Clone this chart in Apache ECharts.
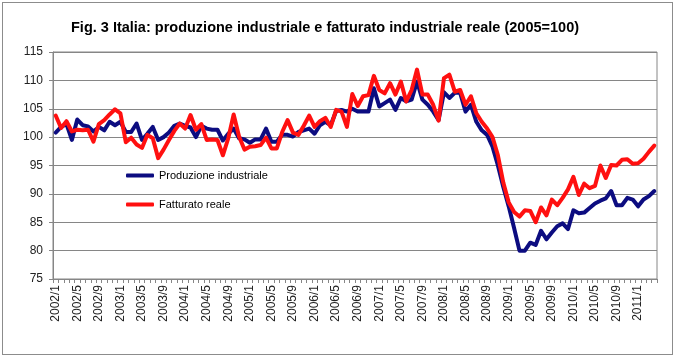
<!DOCTYPE html>
<html>
<head>
<meta charset="utf-8">
<script src="https://cdn.jsdelivr.net/npm/echarts@6/dist/echarts.min.js"></script>
<style>
html,body{margin:0;padding:0;background:#fff;}
#frame{position:absolute;left:2px;top:2px;width:671px;height:353px;border:1px solid #8c8c8c;box-sizing:border-box;}
#c{position:absolute;left:0;top:0;width:678px;height:359px;}
</style>
</head>
<body>
<div id="frame"></div>
<div id="c"></div>
<script>
// tick labels / categories: monthly 2002/1 .. 2011/4
var years = [2002,2003,2004,2005,2006,2007,2008,2009,2010,2011];
var categories = [];
years.forEach(function(y){ for (var m = 1; m <= 12; m++) { if (y === 2011 && m > 4) break; categories.push(y + '/' + m); } });

var yTicks = [75, 80, 85, 90, 95, 100, 105, 110, 115];

var seriesNames = ['Produzione industriale', 'Fatturato reale'];

var produzione = [
  100.8, 101.8, 102.3, 99.5, 103.1, 102.1, 101.9, 101.0, 101.8, 101.2, 102.7, 102.1,
  102.7, 100.9, 100.9, 102.4, 99.5, 100.6, 101.8, 99.5, 100.0, 100.8, 102.0, 102.4,
  102.0, 101.7, 100.0, 102.0, 101.5, 101.3, 101.3, 99.4, 100.6, 101.5, 99.8, 99.6,
  99.0, 99.6, 99.6, 101.5, 99.2, 99.2, 100.4, 100.4, 100.1, 100.9, 101.2, 101.5,
  100.6, 102.1, 102.7, 102.1, 104.6, 104.8, 104.5, 105.0, 104.5, 104.5, 104.5, 108.6,
  105.4, 106.0, 106.6, 104.8, 106.9, 106.3, 106.6, 109.8, 106.6, 105.7, 104.5, 103.0,
  107.9, 106.9, 107.8, 107.8, 104.5, 105.7, 102.7, 101.2, 100.4, 98.3, 95.0, 91.2,
  87.8, 84.0, 80.0, 80.0, 81.4, 81.0, 83.5, 82.0, 83.2, 84.3, 84.8, 83.8,
  87.1, 86.6, 86.7, 87.5, 88.3, 88.8, 89.2, 90.5, 88.0, 88.0, 89.3, 89.0,
  87.8, 89.0, 89.6, 90.5
];

var fatturato = [
  103.8, 101.6, 102.8, 101.0, 101.3, 101.2, 101.3, 99.2, 102.3, 103.0, 104.0, 104.9,
  104.2, 99.1, 99.9, 98.7, 98.1, 100.4, 99.8, 96.3, 97.8, 99.5, 101.1, 102.4,
  101.5, 103.9, 101.3, 102.3, 99.5, 99.6, 99.5, 96.8, 99.8, 104.0, 100.1, 97.8,
  98.3, 98.4, 98.6, 99.9, 98.0, 98.0, 100.9, 103.0, 100.8, 100.4, 102.0, 103.8,
  101.8, 102.8, 103.4, 101.8, 104.8, 104.5, 101.8, 107.6, 105.5, 107.2, 107.4, 110.8,
  108.3, 107.7, 109.5, 107.5, 109.8, 106.3, 108.3, 111.9, 107.5, 107.5, 105.7, 102.9,
  110.4, 111.0, 108.0, 108.3, 105.7, 107.2, 104.2, 102.7, 101.5, 100.0, 96.8, 92.0,
  88.5, 86.8, 86.0, 87.1, 87.0, 85.0, 87.6, 86.2, 89.0, 88.0, 89.3, 90.8,
  93.0, 89.8, 91.8, 91.0, 91.4, 95.0, 92.8, 95.1, 95.0, 96.0, 96.1, 95.3,
  95.4, 96.2, 97.4, 98.5
];

var chart = echarts.init(document.getElementById('c'), null, {renderer: 'canvas'});
var font = 'Liberation Sans, Arial, sans-serif';
chart.setOption({
  animation: false,
  backgroundColor: 'transparent',
  title: {
    text: 'Fig. 3 Italia: produzione industriale e fatturato industriale reale (2005=100)',
    left: 66, top: 15,
    textStyle: {fontFamily: font, fontSize: 14.5, fontWeight: 'bold', color: '#000'}
  },
  legend: {
    orient: 'vertical', left: 126, top: 170, itemGap: 18, padding: 0,
    itemWidth: 28, itemHeight: 4, icon: 'roundRect',
    textStyle: {fontFamily: font, fontSize: 11, color: '#000'},
    data: seriesNames
  },
  grid: {left: 53, right: 21, top: 52, bottom: 80, show: true, borderColor: '#868686', borderWidth: 1},
  xAxis: {
    type: 'category', data: categories, boundaryGap: true,
    axisLine: {lineStyle: {color: '#868686', width: 1}},
    axisTick: {show: true, interval: 0, length: 4, lineStyle: {color: '#868686'}},
    axisLabel: {interval: 3, rotate: 90, margin: 6, fontFamily: font, fontSize: 12, color: '#222'},
    splitLine: {show: false}
  },
  yAxis: {
    type: 'value', min: yTicks[0], max: yTicks[yTicks.length - 1], interval: 5,
    axisLine: {show: true, lineStyle: {color: '#868686'}},
    axisTick: {show: true, length: 4, lineStyle: {color: '#868686'}},
    axisLabel: {margin: 10, fontFamily: font, fontSize: 12, color: '#222'},
    splitLine: {show: true, lineStyle: {color: '#868686', width: 1}}
  },
  series: [
    {name: seriesNames[0], type: 'line', data: produzione, symbol: 'none',
     lineStyle: {color: '#0c0c80', width: 4, join: 'round', cap: 'round'}, itemStyle: {color: '#0c0c80'}},
    {name: seriesNames[1], type: 'line', data: fatturato, symbol: 'none',
     lineStyle: {color: '#ff1010', width: 4, join: 'round', cap: 'round'}, itemStyle: {color: '#ff1010'}}
  ]
});
</script>
</body>
</html>
